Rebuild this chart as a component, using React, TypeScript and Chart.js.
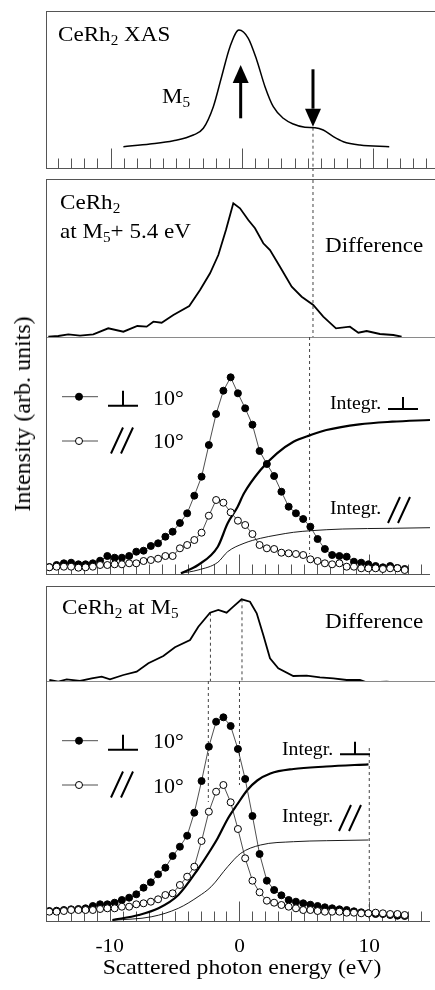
import React, { useEffect, useRef } from 'react';
import { Chart, registerables } from 'chart.js';
Chart.register(...registerables);

const W = 435;
const H = 990;
const X_MIN = -14.83;
const X_MAX = 14.68;
const SERIF = '"Liberation Serif", "Times New Roman", Times, serif';
const FRAME = '#555';
const SEP = '#8a8a8a';

// ---------- x tick labels ----------
const TICK_VALUES = [-10, 0, 10];
const TICK_LABELS = ['-10', '0', '10'];

// ---------- panel 1 : XAS ----------
const XAS_E = [-9.02, -7.0, -5.22, -3.7, -2.94, -2.18, -1.55, -0.91, -0.23, 0.48, 1.12, 1.75, 2.38, 3.14, 3.9, 4.79, 5.55, 6.18, 6.95, 7.71, 8.97, 11.2];
const XAS_I = [21.3, 24, 27.3, 33, 39.7, 61.3, 91.3, 121.3, 138, 129.7, 108, 81.3, 61.3, 49.7, 44, 40.7, 40.3, 38, 31.3, 26.3, 23, 21.3];
const EXC_ENERGY = 5.4; // M5 + 5.4 eV
const ARROW_UP = { x: -0.1, from: 49.7, to: 103 };
const ARROW_DOWN = { x: 5.4, from: 98.7, to: 41.3 };

// ---------- panel 2 : difference at M5 + 5.4 eV ----------
const DIF1_E = [-14.73, -13.97, -13.21, -12.32, -11.31, -10.17, -9.02, -7.96, -7.25, -6.74, -6.11, -5.22, -4.01, -3.19, -2.43, -1.8, -1.22, -0.66, -0.15, 0.48, 0.99, 1.62, 2.13, 2.89, 3.78, 4.54, 5.42, 6.18, 7.15, 8.21, 8.85, 9.48, 10.49, 11.51, 12.14];
const DIF1_I = [0.3, 1, 2.7, 1.3, 2.7, 8.7, 5.3, 11, 10.3, 15.3, 14.3, 22, 31, 47, 63.7, 82, 107, 133.7, 128.7, 117, 108.7, 93.7, 87, 70.3, 50.3, 40.3, 32, 20.3, 8.7, 10.3, 4.3, 6, 3, 2, 0.3];

// ---------- common energy grid of the RIXS spectra ----------
const ENERGY = [-14.65, -14.09, -13.53, -12.97, -12.41, -11.86, -11.3, -10.74, -10.18, -9.62, -9.06, -8.5, -7.95, -7.39, -6.83, -6.27, -5.71, -5.15, -4.59, -4.03, -3.48, -2.92, -2.36, -1.8, -1.24, -0.68, -0.12, 0.44, 1.0, 1.55, 2.11, 2.67, 3.23, 3.79, 4.35, 4.91, 5.46, 6.02, 6.58, 7.14, 7.7, 8.26, 8.82, 9.38, 9.93, 10.49, 11.05, 11.61, 12.17, 12.73];

// ---------- panel 3 : spectra at M5 + 5.4 eV ----------
const P3_PERP = [7, 9, 10.7, 11.3, 9.7, 9.7, 10.7, 13.3, 18, 16.3, 16.3, 18, 22.3, 23.3, 28, 30.7, 37.3, 42.3, 51, 60.7, 78.3, 97.3, 129, 160, 183.3, 196.7, 180.7, 165.7, 149.3, 123, 110, 98, 82.3, 67.3, 60.7, 55, 47.3, 35, 25, 19, 18, 17.3, 12.3, 11.3, 9.7, 8, 6.7, 8, 6, 5];
const P3_PAR = [6.7, 7.3, 7.3, 7.3, 6.3, 6.7, 7.3, 9, 9, 9.7, 9.7, 10.7, 10.7, 13, 14, 15.3, 18, 18, 25.7, 29, 34, 41.3, 58.3, 74, 71.3, 61.7, 53.3, 49, 40, 29, 25.7, 25, 21.3, 20.7, 20, 19, 14.7, 13, 10.7, 9.7, 10.7, 7.3, 7.3, 5.7, 5.7, 5.7, 5, 5.7, 5.7, 4];
const INT3_PERP_E = [-4.51, -3.19, -1.67, -0.91, -0.15, 0.35, 1.62, 2.89, 4.16, 5.5, 6.7, 9.23, 11.77, 14.68];
const INT3_PERP = [0.7, 9, 27.3, 50.7, 67, 80.7, 104, 120.7, 132.3, 139, 144, 149.7, 152.3, 154];
const INT3_PAR_E = [-4.51, -3.19, -1.67, -0.91, 0.35, 1.62, 2.89, 4.16, 5.5, 7.96, 11.77, 14.68];
const INT3_PAR = [0.7, 4, 11.7, 22.3, 30.7, 35.7, 39, 41.7, 43.3, 45, 45.7, 46.3];

// ---------- panel 4 : difference at M5 ----------
const DIF2_E = [-14.65, -13.97, -13.33, -12.32, -11.43, -10.67, -10.04, -9.02, -8.01, -7.12, -5.98, -5.1, -3.95, -3.32, -2.43, -1.8, -1.17, -0.66, -0.03, 0.61, 1.12, 1.62, 2.13, 2.76, 3.9, 4.92, 5.93, 6.95, 7.96, 8.97, 9.48, 11.0, 12.14];
const DIF2_I = [1, -0.7, 1.7, 0, 2.7, 4.3, 1.7, 6, 9.3, 17.7, 25, 33.7, 41, 54.3, 68.3, 71, 68.3, 74.3, 81.7, 79.3, 67.7, 46, 22.7, 12.7, 5, 5.3, 3.7, 2.7, 1, 1, -1.3, -0.7, -1.7];
const MARK_E1 = -2.4;
const MARK_E2 = 0;
const INT_END = 10;

// ---------- panel 5 : spectra at M5 ----------
const P5_PERP = [10, 10.3, 11, 11.7, 12, 12.7, 15, 16.7, 16.7, 18.3, 21, 23.3, 26.7, 33.3, 38.7, 46.7, 53.3, 65, 74.3, 85.3, 108.3, 140, 174.3, 199.3, 203.7, 195, 172, 142, 105, 67, 40.3, 31, 25.7, 21, 19.3, 17.7, 16.3, 15, 13.7, 12.7, 11.7, 11, 9.7, 8.7, 7.7, 7, 7, 6, 5.3, 5];
const P5_PAR = [9.3, 9.3, 10, 11, 11, 11, 11, 12, 12.7, 12.7, 14.3, 14.3, 16.7, 17.7, 19.3, 21.7, 26, 27.7, 36, 44.3, 54.3, 80, 109.3, 129.3, 136, 118.7, 92, 62.7, 40.3, 28.7, 20.3, 18.3, 16, 14.3, 12.7, 11, 11, 10, 9.3, 9.3, 9.3, 8.3, 8.3, 7.7, 7.7, 8.3, 7.7, 7, 7, 6];
const INT5_PERP_E = [-9.79, -7.76, -6.24, -4.71, -3.19, -2.18, -1.67, -0.91, -0.15, 0.61, 1.37, 2.38, 4.16, 6.69, 9.94];
const INT5_PERP = [1, 6, 12.7, 26, 52, 72, 83, 102, 117, 131, 140.5, 147.5, 152, 154.5, 156.7];
const INT5_PAR_E = [-9.79, -6.75, -4.71, -3.19, -2.18, -0.91, 0.1, 1.62, 4.16, 6.69, 9.94];
const INT5_PAR = [0.7, 4.3, 12.7, 24.3, 34.3, 54.3, 67.7, 76, 79.3, 80.3, 81];

// ---------- helpers ----------
const pts = (xs: number[], ys: number[]) => xs.map((x, i) => ({ x, y: ys[i] }));

const curve = (data: any[], width: number, smooth: boolean) => ({
  data,
  borderColor: '#000',
  borderWidth: width,
  pointRadius: 0,
  tension: smooth ? 0.4 : 0,
  cubicInterpolationMode: smooth ? 'monotone' : 'default',
  fill: false,
});

const dashed = (x: number, y1: number, y2: number) => ({
  data: [{ x, y: y1 }, { x, y: y2 }],
  borderColor: '#444',
  borderWidth: 1,
  borderDash: [3, 3],
  pointRadius: 0,
  clip: false,
  fill: false,
});

const dots = (ys: number[], filled: boolean) => ({
  data: pts(ENERGY.slice(0, ys.length), ys),
  borderColor: '#222',
  borderWidth: 0.8,
  pointRadius: 3.5,
  pointBorderWidth: 1,
  pointBackgroundColor: filled ? '#000' : '#fff',
  pointBorderColor: '#000',
  tension: 0,
  fill: false,
});

function drawPerp(ctx: CanvasRenderingContext2D, cx: number, baseY: number, halfW: number, h: number) {
  ctx.save();
  ctx.strokeStyle = '#000';
  ctx.lineWidth = 2;
  ctx.beginPath();
  ctx.moveTo(cx - halfW, baseY);
  ctx.lineTo(cx + halfW, baseY);
  ctx.moveTo(cx, baseY);
  ctx.lineTo(cx, baseY - h);
  ctx.stroke();
  ctx.restore();
}

function drawPar(ctx: CanvasRenderingContext2D, x0: number, bottom: number) {
  ctx.save();
  ctx.strokeStyle = '#000';
  ctx.lineWidth = 2;
  ctx.beginPath();
  ctx.moveTo(x0, bottom);
  ctx.lineTo(x0 + 12, bottom - 26);
  ctx.moveTo(x0 + 10, bottom);
  ctx.lineTo(x0 + 22, bottom - 26);
  ctx.stroke();
  ctx.restore();
}

function drawLegend(ctx: CanvasRenderingContext2D, y1: number, y2: number) {
  ctx.save();
  ctx.strokeStyle = '#222';
  ctx.lineWidth = 0.8;
  ctx.beginPath();
  ctx.moveTo(62, y1);
  ctx.lineTo(98, y1);
  ctx.moveTo(62, y2);
  ctx.lineTo(98, y2);
  ctx.stroke();
  ctx.lineWidth = 1;
  ctx.strokeStyle = '#000';
  ctx.fillStyle = '#000';
  ctx.beginPath();
  ctx.arc(79, y1, 3.5, 0, Math.PI * 2);
  ctx.fill();
  ctx.stroke();
  ctx.fillStyle = '#fff';
  ctx.beginPath();
  ctx.arc(79, y2, 3.5, 0, Math.PI * 2);
  ctx.fill();
  ctx.stroke();
  ctx.restore();
  drawPerp(ctx, 123, y1 + 9, 15, 15);
  drawPar(ctx, 111, y2 + 12.5);
}

function drawArrow(ctx: CanvasRenderingContext2D, chart: any, a: { x: number; from: number; to: number }) {
  const xs = chart.scales.x;
  const ys = chart.scales.y;
  const x = xs.getPixelForValue(a.x);
  const y0 = ys.getPixelForValue(a.from);
  const y1 = ys.getPixelForValue(a.to);
  const dir = y1 < y0 ? -1 : 1;
  const headLen = 18;
  const half = 8;
  const yb = y1 - dir * headLen;
  ctx.save();
  ctx.strokeStyle = '#000';
  ctx.fillStyle = '#000';
  ctx.lineWidth = 3;
  ctx.beginPath();
  ctx.moveTo(x, y0);
  ctx.lineTo(x, yb);
  ctx.stroke();
  ctx.beginPath();
  ctx.moveTo(x, y1);
  ctx.lineTo(x - half, yb);
  ctx.lineTo(x + half, yb);
  ctx.closePath();
  ctx.fill();
  ctx.restore();
}

type Spec = {
  top: number;
  bottom: number;
  frameTop: boolean;
  bottomKind: 'axis' | 'sep' | 'none';
  labels?: boolean;
  datasets: any[];
  decor?: (ctx: CanvasRenderingContext2D, chart: any) => void;
};

const PANELS: Spec[] = [
  {
    top: 11, bottom: 168, frameTop: true, bottomKind: 'axis',
    datasets: [curve(pts(XAS_E, XAS_I), 1.5, true), dashed(EXC_ENERGY, 40.3, 0)],
    decor: (ctx, chart) => { drawArrow(ctx, chart, ARROW_UP); drawArrow(ctx, chart, ARROW_DOWN); },
  },
  {
    top: 179, bottom: 337, frameTop: true, bottomKind: 'sep',
    datasets: [curve(pts(DIF1_E, DIF1_I), 1.8, false), dashed(EXC_ENERGY, 169, 0)],
  },
  {
    top: 337, bottom: 574, frameTop: false, bottomKind: 'axis',
    datasets: [
      dots(P3_PAR, false),
      dots(P3_PERP, true),
      curve(pts(INT3_PERP_E, INT3_PERP), 2.2, true),
      curve(pts(INT3_PAR_E, INT3_PAR), 0.9, true),
      dashed(EXC_ENERGY, 237, 20),
    ],
    decor: (ctx) => {
      drawLegend(ctx, 396.7, 441);
      drawPerp(ctx, 403, 409, 15, 12);
      drawPar(ctx, 388, 523);
    },
  },
  {
    top: 586, bottom: 681, frameTop: true, bottomKind: 'sep',
    datasets: [
      curve(pts(DIF2_E, DIF2_I), 1.8, false),
      dashed(MARK_E1, 68.3, 0),
      dashed(MARK_E2, 81.7, 0),
    ],
  },
  {
    top: 681, bottom: 921, frameTop: false, bottomKind: 'axis', labels: true,
    datasets: [
      dots(P5_PAR, false),
      dots(P5_PERP, true),
      curve(pts(INT5_PERP_E, INT5_PERP), 2.2, true),
      curve(pts(INT5_PAR_E, INT5_PAR), 0.9, true),
      dashed(MARK_E1, 240, 119),
      dashed(MARK_E2, 240, 136),
      dashed(INT_END, 173, 0),
    ],
    decor: (ctx) => {
      drawLegend(ctx, 740.7, 785);
      drawPerp(ctx, 355, 754.3, 15, 12.5);
      drawPar(ctx, 339, 831);
    },
  },
];

function makeChart(canvas: HTMLCanvasElement, spec: Spec) {
  const framePlugin = {
    id: 'panelFrame',
    beforeDatasetsDraw(chart: any) {
      const { ctx, chartArea: a } = chart;
      const xs = chart.scales.x;
      const L = Math.round(a.left) - 0.5;
      const R = a.right;
      const T = Math.round(a.top) + 0.5;
      const B = Math.round(a.bottom) + 0.5;
      ctx.save();
      ctx.lineWidth = 1;
      ctx.strokeStyle = FRAME;
      ctx.beginPath();
      ctx.moveTo(L, a.top);
      ctx.lineTo(L, B + 0.5);
      if (spec.frameTop) {
        ctx.moveTo(L, T);
        ctx.lineTo(R, T);
      }
      if (spec.bottomKind === 'axis') {
        ctx.moveTo(L, B);
        ctx.lineTo(R, B);
        for (let v = -14; v <= 14; v++) {
          const x = Math.round(xs.getPixelForValue(v)) + 0.5;
          const len = v % 10 === 0 ? 20 : 10;
          ctx.moveTo(x, B);
          ctx.lineTo(x, B - len);
        }
      }
      ctx.stroke();
      if (spec.bottomKind === 'sep') {
        ctx.strokeStyle = SEP;
        ctx.beginPath();
        ctx.moveTo(L, B);
        ctx.lineTo(R, B);
        ctx.stroke();
      }
      ctx.restore();
    },
    afterDraw(chart: any) {
      const { ctx } = chart;
      if (spec.decor) spec.decor(ctx, chart);
      if (spec.labels) {
        const xs = chart.scales.x;
        ctx.save();
        ctx.fillStyle = '#000';
        ctx.font = `19px ${SERIF}`;
        ctx.textAlign = 'center';
        ctx.textBaseline = 'alphabetic';
        TICK_VALUES.forEach((v, i) => {
          ctx.save();
          ctx.translate(xs.getPixelForValue(v), 951.7);
          ctx.scale(1.12, 1);
          ctx.fillText(TICK_LABELS[i], 0, 0);
          ctx.restore();
        });
        ctx.restore();
      }
    },
  };
  return new Chart(canvas, {
    type: 'line',
    data: { datasets: spec.datasets },
    options: {
      responsive: false,
      animation: false,
      events: [],
      layout: { padding: { left: 47, right: 0, top: spec.top, bottom: H - spec.bottom } },
      scales: {
        x: { type: 'linear', min: X_MIN, max: X_MAX, display: false },
        y: { type: 'linear', min: 0, max: spec.bottom - spec.top, display: false },
      },
      plugins: { legend: { display: false }, tooltip: { enabled: false }, title: { display: false } },
    },
    plugins: [framePlugin],
  } as any);
}

const Sub = ({ children }: { children: any }) => (
  <span style={{ fontSize: '0.66em', verticalAlign: '-4px', lineHeight: 0 }}>{children}</span>
);

function Txt({ x, base, size, sx = 1.1, children }: { x: number; base: number; size: number; sx?: number; children: any }) {
  return (
    <div
      style={{
        position: 'absolute',
        left: x,
        top: base - 0.8375 * size,
        fontFamily: SERIF,
        fontSize: size,
        lineHeight: `${size}px`,
        whiteSpace: 'nowrap',
        transform: `scaleX(${sx})`,
        transformOrigin: '0 0',
        color: '#000',
      }}
    >
      {children}
    </div>
  );
}

export default function App() {
  const refs = useRef<(HTMLCanvasElement | null)[]>([]);
  useEffect(() => {
    document.body.style.margin = '0';
    const charts = PANELS.map((spec, i) => makeChart(refs.current[i] as HTMLCanvasElement, spec));
    return () => charts.forEach((c) => c.destroy());
  }, []);

  return (
    <div style={{ position: 'absolute', left: 0, top: 0, width: W, height: H, background: '#fff', overflow: 'hidden' }}>
      {PANELS.map((_, i) => (
        <canvas
          key={i}
          ref={(el) => { refs.current[i] = el; }}
          width={W}
          height={H}
          style={{ position: 'absolute', left: 0, top: 0 }}
        />
      ))}
      <Txt x={58} base={41.7} size={21}>CeRh<Sub>2</Sub> XAS</Txt>
      <Txt x={161.7} base={103.3} size={21}>M<Sub>5</Sub></Txt>

      <Txt x={60} base={209.5} size={21}>CeRh<Sub>2</Sub></Txt>
      <Txt x={60} base={238.3} size={21}>at M<Sub>5</Sub>+ 5.4 eV</Txt>
      <Txt x={325} base={252.7} size={21}>Difference</Txt>

      <Txt x={153} base={405} size={20}>10°</Txt>
      <Txt x={153} base={448} size={20}>10°</Txt>
      <Txt x={330} base={409} size={18}>Integr.</Txt>
      <Txt x={330} base={514} size={18}>Integr.</Txt>

      <Txt x={62} base={615} size={21}>CeRh<Sub>2</Sub> at M<Sub>5</Sub></Txt>
      <Txt x={325} base={628.3} size={21}>Difference</Txt>

      <Txt x={153} base={748} size={20}>10°</Txt>
      <Txt x={153} base={792.7} size={20}>10°</Txt>
      <Txt x={281.7} base={755} size={18}>Integr.</Txt>
      <Txt x={281.7} base={822} size={18}>Integr.</Txt>

      <div
        style={{
          position: 'absolute',
          left: 241.7,
          top: 975 - 0.8375 * 21.5,
          fontFamily: SERIF,
          fontSize: 21.5,
          lineHeight: '21.5px',
          whiteSpace: 'nowrap',
          transform: 'translateX(-50%) scaleX(1.1)',
          color: '#000',
        }}
      >
        Scattered photon energy (eV)
      </div>
      <div
        style={{
          position: 'absolute',
          left: 22,
          top: 414,
          fontFamily: SERIF,
          fontSize: 24,
          lineHeight: '24px',
          whiteSpace: 'nowrap',
          transform: 'translate(-50%, -50%) rotate(-90deg)',
          color: '#000',
        }}
      >
        Intensity (arb. units)
      </div>
    </div>
  );
}
